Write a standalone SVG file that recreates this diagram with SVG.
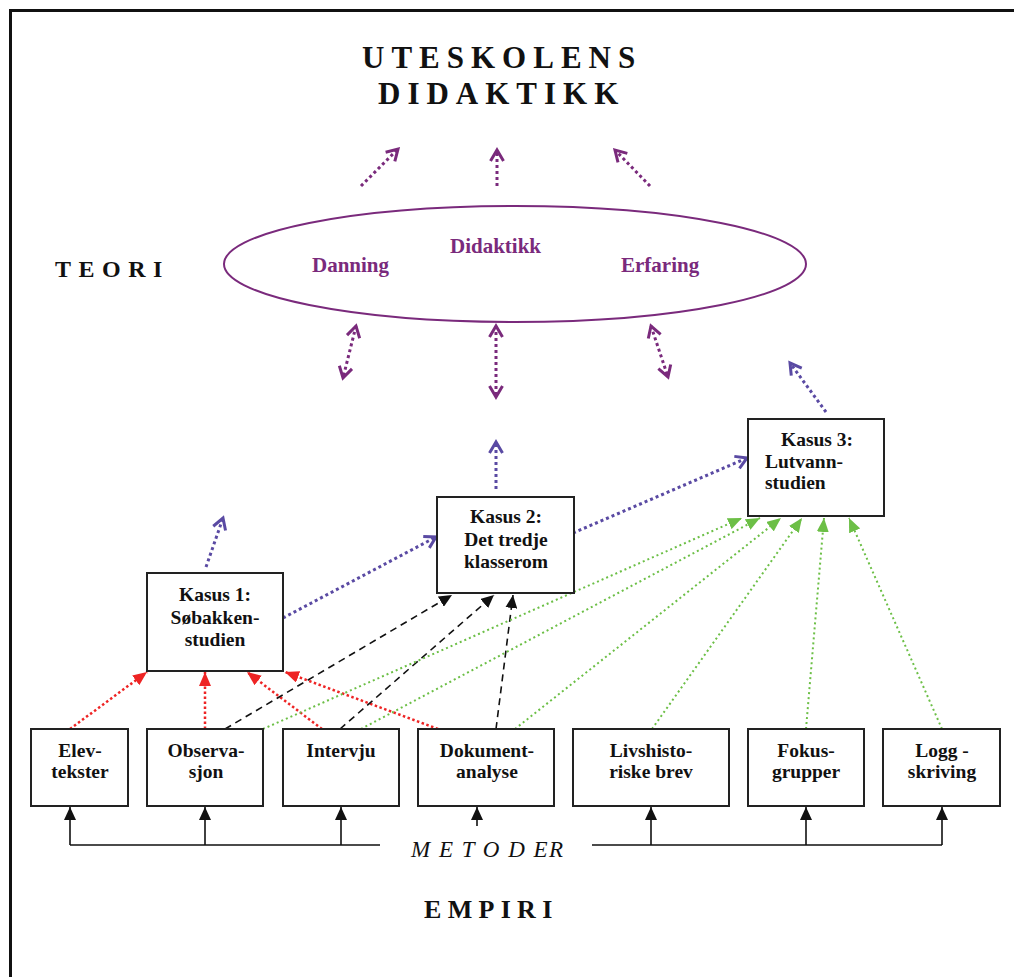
<svg xmlns="http://www.w3.org/2000/svg" width="1014" height="977" viewBox="0 0 1014 977">
<style>
text{font-family:"Liberation Serif","Times New Roman",serif;font-weight:bold;fill:#111}
text.it{font-weight:normal;font-style:italic}
.box{fill:#fff;stroke:#222;stroke-width:2}
.bt{font-size:19.5px;text-anchor:middle}
.pt{font-size:21px;fill:#7a2a7c}
.pu{stroke:#7a2a7c;stroke-width:3;stroke-dasharray:3 3;fill:none}
.bl{stroke:#5a4aa3;stroke-width:3;stroke-dasharray:3 3;fill:none}
.rd{stroke:#ee2424;stroke-width:2.5;stroke-dasharray:2.5 2.5;fill:none}
.gr{stroke:#6cbf46;stroke-width:2;stroke-dasharray:2 3;fill:none}
.bk{stroke:#111;stroke-width:1.6;stroke-dasharray:7 5;fill:none}
.sol{stroke:#111;stroke-width:1.6;fill:none}
</style>
<defs>
<marker id="chevP" markerUnits="userSpaceOnUse" markerWidth="16" markerHeight="16" viewBox="0 0 16 16" refX="14" refY="8" orient="auto-start-reverse" overflow="visible"><path d="M3,1.5 L14,8 L3,14.5" fill="none" stroke="#7a2a7c" stroke-width="3"/></marker>
<marker id="chevB" markerUnits="userSpaceOnUse" markerWidth="16" markerHeight="16" viewBox="0 0 16 16" refX="14" refY="8" orient="auto" overflow="visible"><path d="M3,1.5 L14,8 L3,14.5" fill="none" stroke="#5a4aa3" stroke-width="3"/></marker>
<marker id="triR" markerUnits="userSpaceOnUse" markerWidth="14" markerHeight="12" viewBox="0 0 14 12" refX="14" refY="6" orient="auto"><path d="M0,0 L14,6 L0,12 Z" fill="#ee2424"/></marker>
<marker id="triG" markerUnits="userSpaceOnUse" markerWidth="14" markerHeight="12" viewBox="0 0 14 12" refX="14" refY="6" orient="auto"><path d="M0,0 L14,6 L0,12 Z" fill="#6cbf46"/></marker>
<marker id="triK" markerUnits="userSpaceOnUse" markerWidth="13" markerHeight="12" viewBox="0 0 13 12" refX="13" refY="6" orient="auto"><path d="M0,0 L13,6 L0,12 Z" fill="#111"/></marker>
</defs>
<rect x="10.5" y="10.5" width="1020" height="990" fill="none" stroke="#111" stroke-width="3"/>
<g id="title">
<text x="362" y="68" font-size="31" letter-spacing="7">UTESKOLENS</text>
<text x="378" y="104" font-size="31" letter-spacing="7">DIDAKTIKK</text>
</g>
<text id="teori" x="55" y="277" font-size="24" letter-spacing="7.5">TEORI</text>
<text id="empiri" x="424" y="918" font-size="26" letter-spacing="6.3">EMPIRI</text>
<text id="metoder" class="it" x="411" y="857" font-size="23" letter-spacing="1.5">M E T O D ER</text>
<g id="connectors">
<line class="pu" x1="361" y1="186" x2="398" y2="149" marker-end="url(#chevP)"/>
<line class="pu" x1="497" y1="186" x2="497" y2="150" marker-end="url(#chevP)"/>
<line class="pu" x1="650" y1="186" x2="615" y2="150" marker-end="url(#chevP)"/>
<line class="pu" x1="356" y1="326" x2="343" y2="378" marker-start="url(#chevP)" marker-end="url(#chevP)"/>
<line class="pu" x1="496" y1="326" x2="496" y2="397" marker-start="url(#chevP)" marker-end="url(#chevP)"/>
<line class="pu" x1="651" y1="326" x2="668" y2="377" marker-start="url(#chevP)" marker-end="url(#chevP)"/>
<line class="bl" x1="206" y1="567" x2="223" y2="518" marker-end="url(#chevB)"/>
<line class="bl" x1="283" y1="618" x2="436" y2="537" marker-end="url(#chevB)"/>
<line class="bl" x1="496" y1="489" x2="496" y2="442" marker-end="url(#chevB)"/>
<line class="bl" x1="573" y1="533" x2="747" y2="458" marker-end="url(#chevB)"/>
<line class="bl" x1="826" y1="412" x2="790" y2="363" marker-end="url(#chevB)"/>
<line class="rd" x1="70" y1="729" x2="147" y2="672" marker-end="url(#triR)"/>
<line class="rd" x1="205" y1="729" x2="205" y2="672" marker-end="url(#triR)"/>
<line class="rd" x1="322" y1="729" x2="247" y2="672" marker-end="url(#triR)"/>
<line class="rd" x1="438" y1="729" x2="285" y2="672" marker-end="url(#triR)"/>
<line class="bk" x1="225" y1="729" x2="452" y2="595" marker-end="url(#triK)"/>
<line class="bk" x1="340" y1="729" x2="494" y2="595" marker-end="url(#triK)"/>
<line class="bk" x1="496" y1="729" x2="513" y2="595" marker-end="url(#triK)"/>
<line class="gr" x1="263" y1="729" x2="742" y2="518" marker-end="url(#triG)"/>
<line class="gr" x1="361" y1="729" x2="760" y2="518" marker-end="url(#triG)"/>
<line class="gr" x1="515" y1="729" x2="781" y2="518" marker-end="url(#triG)"/>
<line class="gr" x1="652" y1="729" x2="802" y2="518" marker-end="url(#triG)"/>
<line class="gr" x1="806" y1="729" x2="824" y2="518" marker-end="url(#triG)"/>
<line class="gr" x1="942" y1="729" x2="849" y2="518" marker-end="url(#triG)"/>
<path class="sol" d="M70,845 H380 M592,845 H942"/>
<line class="sol" x1="70" y1="845" x2="70" y2="807" marker-end="url(#triK)"/>
<line class="sol" x1="205" y1="845" x2="205" y2="807" marker-end="url(#triK)"/>
<line class="sol" x1="341" y1="845" x2="341" y2="807" marker-end="url(#triK)"/>
<line class="sol" x1="477" y1="826" x2="477" y2="807" marker-end="url(#triK)"/>
<line class="sol" x1="651" y1="845" x2="651" y2="807" marker-end="url(#triK)"/>
<line class="sol" x1="806" y1="845" x2="806" y2="807" marker-end="url(#triK)"/>
<line class="sol" x1="942" y1="845" x2="942" y2="807" marker-end="url(#triK)"/>
</g>
<g id="teori-ellipse">
<ellipse cx="515" cy="264" rx="291" ry="58" fill="none" stroke="#7a2a7c" stroke-width="2"/>
<text class="pt" x="312" y="272">Danning</text>
<text class="pt" x="450" y="253">Didaktikk</text>
<text class="pt" x="621" y="272">Erfaring</text>
</g>
<g id="kasus1"><rect class="box" x="147" y="573" width="136" height="98"/>
<text class="bt" x="215" y="601">Kasus 1:</text><text class="bt" x="215" y="624">Søbakken-</text><text class="bt" x="215" y="646">studien</text></g>
<g id="kasus2"><rect class="box" x="437" y="497" width="137" height="96"/>
<text class="bt" x="506" y="523">Kasus 2:</text><text class="bt" x="506" y="546">Det tredje</text><text class="bt" x="506" y="568">klasserom</text></g>
<g id="kasus3"><rect class="box" x="748" y="419" width="136" height="97"/>
<text x="781" y="446" font-size="19.5">Kasus 3:</text><text x="765" y="468" font-size="19.5">Lutvann-</text><text x="765" y="489" font-size="19.5">studien</text></g>
<g id="elevtekster"><rect class="box" x="31" y="729" width="97" height="77"/><text class="bt" x="80" y="757">Elev-</text><text class="bt" x="80" y="778">tekster</text></g>
<g id="observasjon"><rect class="box" x="147" y="729" width="116" height="77"/><text class="bt" x="206" y="757">Observa-</text><text class="bt" x="206" y="778">sjon</text></g>
<g id="intervju"><rect class="box" x="283" y="729" width="116" height="77"/><text class="bt" x="341" y="757">Intervju</text></g>
<g id="dokumentanalyse"><rect class="box" x="418" y="729" width="136" height="77"/><text class="bt" x="487" y="757">Dokument-</text><text class="bt" x="487" y="778">analyse</text></g>
<g id="livshistoriske"><rect class="box" x="573" y="729" width="156" height="77"/><text class="bt" x="651" y="757">Livshisto-</text><text class="bt" x="651" y="778">riske brev</text></g>
<g id="fokusgrupper"><rect class="box" x="748" y="729" width="116" height="77"/><text class="bt" x="806" y="757">Fokus-</text><text class="bt" x="806" y="778">grupper</text></g>
<g id="loggskriving"><rect class="box" x="883" y="729" width="117" height="77"/><text class="bt" x="942" y="757">Logg -</text><text class="bt" x="942" y="778">skriving</text></g>
</svg>
